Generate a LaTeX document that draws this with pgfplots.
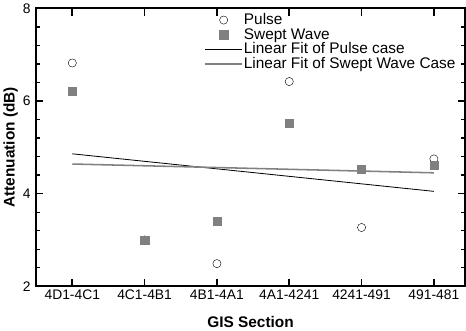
\documentclass[border=0pt]{standalone}
\usepackage{fontspec}
\setmainfont{Liberation Sans}
\usepackage{pgfplots}
\pgfplotsset{compat=1.18}
\definecolor{sgray}{HTML}{808080}
\pgfplotsset{
  markleg/.style={legend image code/.code={\draw[##1] plot coordinates {(18pt,0pt)};}},
  lineleg/.style={legend image code/.code={\draw[##1] (0pt,0pt) -- (36pt,0pt);}},
}
\begin{document}
\begin{tikzpicture}
\begin{axis}[
  scale only axis, width=418pt, height=271pt,
  at={(0pt,0pt)}, anchor=south west,
  xmin=-0.5, xmax=5.43, ymin=2, ymax=8,
  xtick={0,1,2,3,4,5},
  xticklabels={4D1-4C1,4C1-4B1,4B1-4A1,4A1-4241,4241-491,491-481},
  ytick={2,4,6,8}, minor y tick num=4,
  xtick pos=both, ytick pos=both,
  tick align=inside, major tick length=7pt, minor tick length=4pt,
  axis line style={line width=2pt, black},
  major tick style={draw=black, line width=1.6pt},
  minor tick style={draw=black, line width=1.3pt},
  /pgf/number format/assume math mode=true,
  ticklabel style={font=\fontsize{13.5}{14}\selectfont},
  yticklabel style={xshift=-2pt},
  xlabel={\textbf{GIS Section}}, ylabel={\textbf{Attenuation (dB)}},
  label style={font=\fontsize{15}{16}\selectfont},
  xlabel style={yshift=-9pt},
  ylabel style={yshift=-2pt},
  legend style={draw=none, fill=none, inner sep=0pt, at={(0.392,0.985)}, anchor=north west,
    font=\fontsize{15}{16}\selectfont, row sep=0pt, nodes={inner sep=1pt}},
  legend cell align=left,
]
\addplot[only marks, mark=o, mark size=4pt, black, thin, markleg]
  coordinates {(0,6.82) (1,3.0) (2,2.49) (3,6.42) (4,3.27) (5,4.75)};
\addlegendentry{Pulse}
\addplot[only marks, mark=square*, mark size=4pt, sgray, mark options={draw=sgray, fill=sgray}, markleg]
  coordinates {(0,6.21) (1,3.0) (2,3.41) (3,5.52) (4,4.52) (5,4.62)};
\addlegendentry{Swept Wave}
\addplot[black, line width=0.8pt, no marks, lineleg]
  coordinates {(0,4.86) (5,4.05)};
\addlegendentry{Linear Fit of Pulse case}
\addplot[sgray, line width=1.5pt, no marks, lineleg]
  coordinates {(0,4.64) (5,4.45)};
\addlegendentry{Linear Fit of Swept Wave Case}
\end{axis}
\end{tikzpicture}
\end{document}
